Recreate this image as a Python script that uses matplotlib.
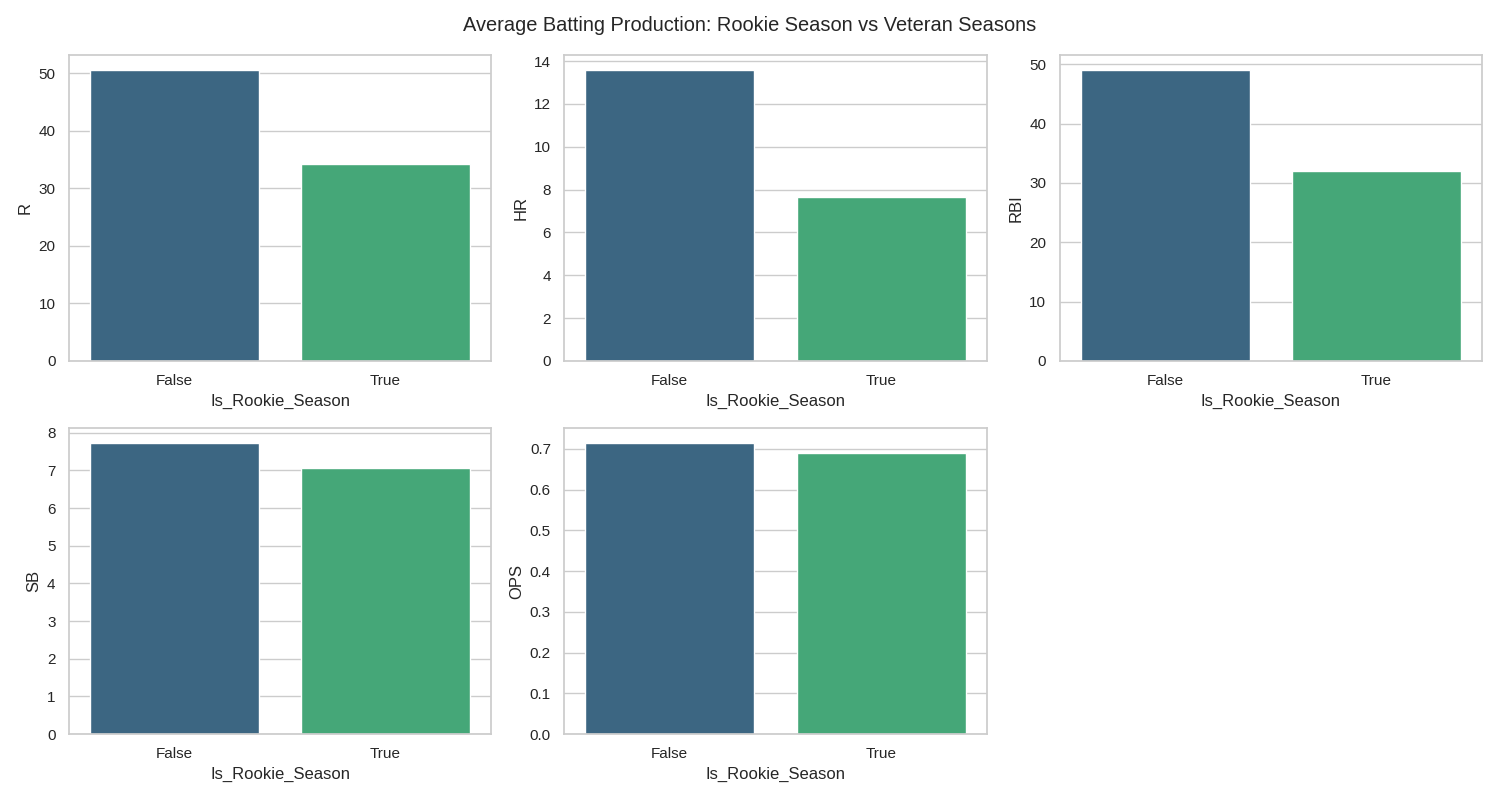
import matplotlib
matplotlib.use("Agg")
import matplotlib.pyplot as plt
import pandas as pd
import seaborn as sns

sns.set_theme(style="whitegrid")
plt.rcParams['font.family'] = ['Liberation Sans', 'DejaVu Sans']

# mean stats by rookie flag
rookie_flag = [False, True]
R = [50.6, 34.2]
HR = [13.6, 7.65]
RBI = [49.1, 32.0]
SB = [7.73, 7.05]
OPS = [0.715, 0.689]

means = pd.DataFrame({'Is_Rookie_Season': rookie_flag, 'R': R, 'HR': HR,
                      'RBI': RBI, 'SB': SB, 'OPS': OPS})
stats = ['R', 'HR', 'RBI', 'SB', 'OPS']

fig, axes = plt.subplots(2, 3, figsize=(15, 8))
axes = axes.flatten()
for i, stat in enumerate(stats):
    sns.barplot(data=means, x='Is_Rookie_Season', y=stat, hue='Is_Rookie_Season',
                palette='viridis', legend=False, ax=axes[i])
fig.delaxes(axes[5])

fig.suptitle('Average Batting Production: Rookie Season vs Veteran Seasons')
plt.tight_layout()
plt.savefig('out.png', dpi=100)
